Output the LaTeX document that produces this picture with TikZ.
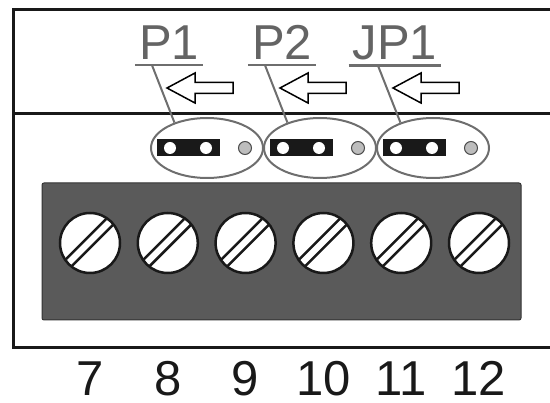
\documentclass[tikz,border=0pt]{standalone}
\usepackage{fontspec}
\setmainfont{Liberation Sans}
\usepackage{tikz}
\usetikzlibrary{shapes.geometric, positioning, calc}
\definecolor{blockgray}{HTML}{5A5A5A}
\definecolor{labelgray}{HTML}{646464}
\definecolor{ringgray}{HTML}{6E6E6E}
\definecolor{pingray}{HTML}{BDBDBD}
\begin{document}
\begin{tikzpicture}[x=1pt, y=1pt,
  frame/.style={line width=3pt, color=black!90},
  ring/.style={ellipse, draw=ringgray, line width=2pt, minimum width=112pt, minimum height=60pt, inner sep=0pt},
  tag/.style={text=labelgray, font=\fontsize{49}{49}\selectfont, inner xsep=4pt, inner ysep=5pt, anchor=base},
  leader/.style={draw=ringgray, line width=2pt},
  screw/.style={circle, draw=black!90, fill=white, line width=2.5pt, minimum size=60pt, inner sep=0pt},
  slot/.style={line width=2.5pt, color=black!90},
  num/.style={font=\fontsize{49}{49}\selectfont, text=black!90, anchor=base, inner sep=0pt}]
\useasboundingbox (0,0) rectangle (550,-403);
% housing
\draw [frame] (550,-10) -- (13,-10) -- (13,-348) -- (550,-348);
\draw [frame] (13,-114) -- (550,-114);
% terminal block
\draw [draw=black!80, fill=blockgray, rounded corners=2pt, line width=1pt] (42,-183) rectangle (521,-320);
\foreach \n [count=\i from 0] in {7,...,12} {
  \node [screw] (scr\n) at (90+77.8*\i,-243) {};
  \draw [slot] ($(scr\n.center)+(135:5.5)+(225:28.5)$) -- ($(scr\n.center)+(135:5.5)+(45:28.5)$);
  \draw [slot] ($(scr\n.center)+(315:3.5)+(225:28.8)$) -- ($(scr\n.center)+(315:3.5)+(45:28.8)$);
  \node [num] (num\n) at (90+77.8*\i,-395.5) {\n};
}
% jumpers
\foreach \cx/\name in {207/P1, 320/P2, 433/JP1} {
  \node [ring] (ring\name) at (\cx,-148) {};
  \node [tag] (tag\name) at (\cx-38,-60) {\name};
  \draw [leader, line width=2.5pt] (tag\name.south west) -- (tag\name.south east);
  \draw [leader] ($(ring\name.center |- tag\name.south)+(-55,0)$) -- (ring\name.142);
  \fill [black!90] (\cx-50,-139.5) rectangle (\cx+13,-156.5);
  \fill [white] (\cx-37,-148) circle (6) (\cx-1,-148) circle (6);
  \draw [fill=pingray, draw=black!70, line width=1pt] (\cx+38,-148) circle (6.5);
  \draw [fill=white, line width=1.5pt] (\cx-40,-88) -- (\cx-12,-73) -- (\cx-12,-82.5) -- (\cx+26,-82.5) -- (\cx+26,-93.5) -- (\cx-12,-93.5) -- (\cx-12,-103) -- cycle;
}
\end{tikzpicture}
\end{document}
